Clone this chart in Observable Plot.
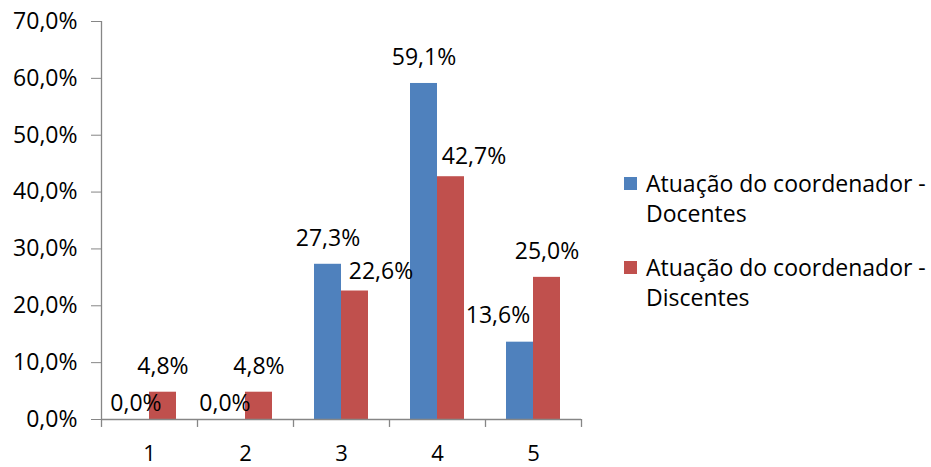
<!DOCTYPE html>
<html>
<head>
<meta charset="utf-8">
<script src="https://cdn.jsdelivr.net/npm/d3@7"></script>
<script src="https://cdn.jsdelivr.net/npm/@observablehq/plot@0.6"></script>
<style>
  html, body { margin: 0; padding: 0; background: #fff; }
  #wrap { position: relative; width: 931px; height: 467px; font-family: "Open Sans", sans-serif; }
  g[aria-label$="-axis tick"] { stroke: #868686; }
  .legend { position: absolute; left: 624px; font-size: 23px; line-height: 30px; color: #000; }
  .legend .sw { position: absolute; left: 0; top: 9px; width: 13px; height: 13px; }
  .legend .tx { position: absolute; left: 22px; top: 0; white-space: nowrap; }
</style>
</head>
<body>
<div id="wrap"></div>
<script>
const categories = ["1", "2", "3", "4", "5"];
const docentes = [0.0, 0.0, 27.3, 59.1, 13.6];
const discentes = [4.8, 4.8, 22.6, 42.7, 25.0];
const seriesNames = ["Atuação do coordenador - Docentes", "Atuação do coordenador - Discentes"];
const seriesColors = ["#4F81BD", "#C0504D"];
const yTicks = [0, 10, 20, 30, 40, 50, 60, 70];

// Manually moved data labels (as in the original chart): [dx, dy] extra nudges
const labelNudges = {
  "0|1": [0, 10],
  "0|2": [-7, 10],
  "0|5": [-22, -1],
  "1|3": [26, 7],
  "1|4": [23, 6]
};

const fmt = v => v.toFixed(1).replace(".", ",") + "%";

const rows = [];
categories.forEach((c, i) => {
  rows.push({cat: c, s: 0, value: docentes[i]});
  rows.push({cat: c, s: 1, value: discentes[i]});
});

const step = 96, barW = 27, pad = 21;
const halfOff = step / 2;

const labelMarks = rows.map(r => {
  const n = labelNudges[r.s + "|" + r.cat] || [0, 0];
  const base = r.s === 0 ? -barW / 2 : barW / 2;
  return Plot.text([r], {
    x: "cat", y: "value", text: d => fmt(d.value),
    dx: base + n[0], dy: -26 + n[1], fill: "#000"
  });
});

const chart = Plot.plot({
  width: 931,
  height: 467,
  marginLeft: 101,
  marginRight: 350,
  marginTop: 21,
  marginBottom: 48,
  style: {fontFamily: "Open Sans", fontSize: "23px", color: "#000", background: "#fff"},
  x: {domain: categories, padding: 0, label: null},
  y: {domain: [0, 70], label: null},
  marks: [
    Plot.barY(rows.filter(r => r.s === 0), {x: "cat", y: "value", fill: seriesColors[0], insetLeft: pad, insetRight: step - pad - barW}),
    Plot.barY(rows.filter(r => r.s === 1), {x: "cat", y: "value", fill: seriesColors[1], insetLeft: step - pad - barW, insetRight: pad}),
    Plot.ruleY([0], {stroke: "#868686", strokeWidth: 1.3}),
    Plot.ruleX([categories[0]], {x: d => d, dx: -halfOff, y1: 0, y2: 70, stroke: "#868686", strokeWidth: 1.3}),
    Plot.ruleX(categories, {x: d => d, dx: -halfOff, y1: 0, y2: -1.4, stroke: "#868686", strokeWidth: 1.3}),
    Plot.ruleX([categories[categories.length - 1]], {x: d => d, dx: halfOff, y1: 0, y2: -1.4, stroke: "#868686", strokeWidth: 1.3}),
    Plot.axisY({ticks: yTicks, tickFormat: fmt, tickSize: 10, tickPadding: 14, fill: "#000"}),
    Plot.axisX({tickSize: 0, tickPadding: 26, fontSize: 22, fill: "#000"}),
    ...labelMarks
  ]
});

const wrap = document.getElementById("wrap");
wrap.appendChild(chart);

const legendTops = [168, 252];
seriesNames.forEach((name, i) => {
  const item = document.createElement("div");
  item.className = "legend";
  item.style.top = legendTops[i] + "px";
  const sw = document.createElement("div");
  sw.className = "sw";
  sw.style.background = seriesColors[i];
  const tx = document.createElement("div");
  tx.className = "tx";
  const idx = name.lastIndexOf(" - ");
  const l1 = document.createElement("div"); l1.textContent = name.slice(0, idx) + " -";
  const l2 = document.createElement("div"); l2.textContent = name.slice(idx + 3);
  tx.appendChild(l1); tx.appendChild(l2);
  item.appendChild(sw); item.appendChild(tx);
  wrap.appendChild(item);
});
const svg = wrap.querySelector("svg");
svg.style.position = "absolute";
svg.style.left = "0";
svg.style.top = "0";
</script>
</body>
</html>
